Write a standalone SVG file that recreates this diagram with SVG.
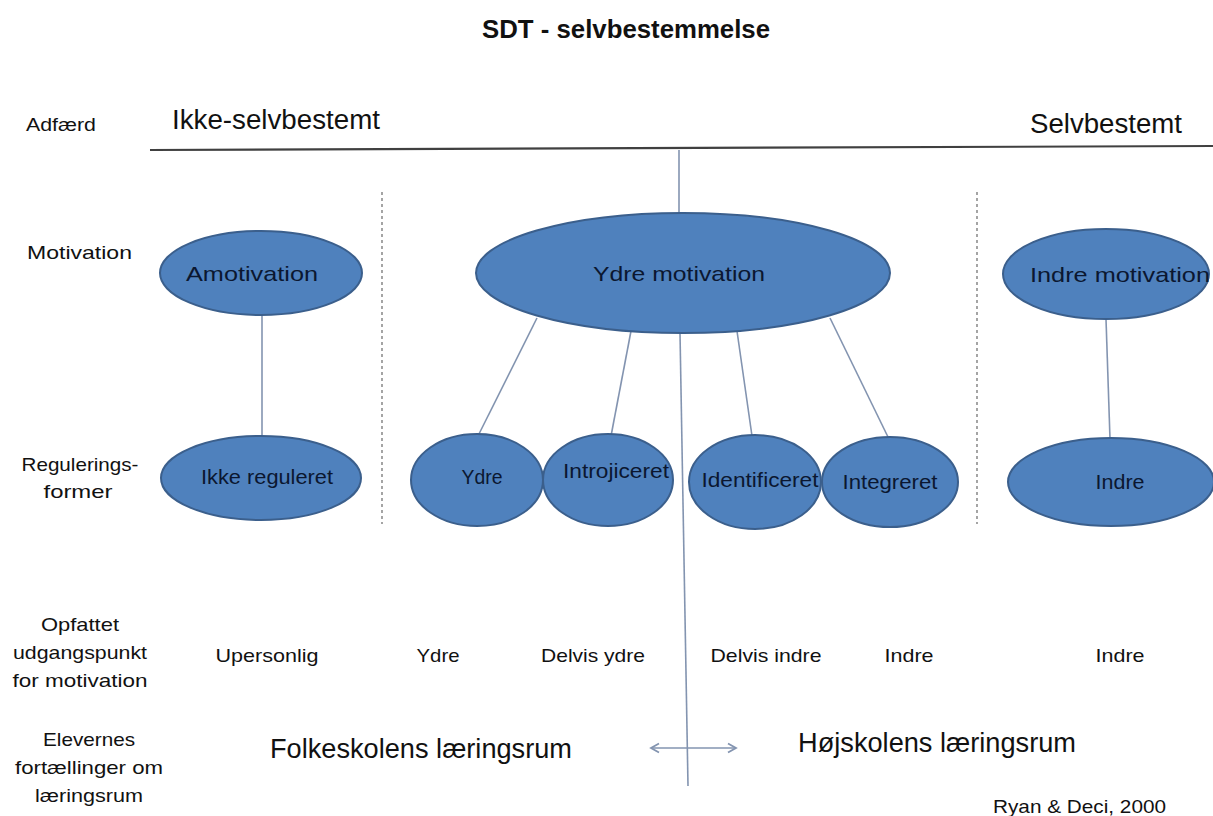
<svg xmlns="http://www.w3.org/2000/svg" width="1213" height="816" viewBox="0 0 1213 816">
<style>
text{font-family:"Liberation Sans",Arial,sans-serif;fill:#111;}
.lbl{font-size:19px;}
.big{font-size:27px;}
.nt{font-size:21px;fill:#0b1730;text-anchor:middle;}
.el{fill:#4f81bd;stroke:#3b5f8c;stroke-width:2;}
.con{stroke:#8394b0;stroke-width:1.6;fill:none;}
.dash{stroke:#7f7f7f;stroke-width:1.4;stroke-dasharray:3 3;fill:none;}
</style>
<defs>
<marker id="ah" viewBox="0 0 12 12" refX="10" refY="6" markerWidth="12" markerHeight="12" markerUnits="userSpaceOnUse" orient="auto-start-reverse">
<polyline points="2,1.5 10,6 2,10.5" fill="none" stroke="#8394b0" stroke-width="1.8"/>
</marker>
</defs>
<rect width="1213" height="816" fill="#ffffff"/>
<text x="626" y="38" text-anchor="middle" style="font-size:25px;font-weight:bold" textLength="288" lengthAdjust="spacingAndGlyphs">SDT - selvbestemmelse</text>
<g id="axis">
<line x1="150" y1="150" x2="1213" y2="146" stroke="#404040" stroke-width="2.2"/>
<line class="dash" x1="382" y1="192" x2="382" y2="524"/>
<line class="dash" x1="977" y1="192" x2="977" y2="524"/>
</g>
<g id="row-labels">
<text class="lbl" x="26" y="131" textLength="70" lengthAdjust="spacingAndGlyphs">Adfærd</text>
<text class="big" x="172" y="129" textLength="208" lengthAdjust="spacingAndGlyphs">Ikke-selvbestemt</text>
<text class="big" x="1030" y="133" textLength="152" lengthAdjust="spacingAndGlyphs">Selvbestemt</text>
<text class="lbl" x="27" y="259" textLength="105" lengthAdjust="spacingAndGlyphs">Motivation</text>
<text class="lbl" x="80" y="471" text-anchor="middle" textLength="117" lengthAdjust="spacingAndGlyphs">Regulerings-</text>
<text class="lbl" x="78" y="498" text-anchor="middle" textLength="69" lengthAdjust="spacingAndGlyphs">former</text>
<text class="lbl" x="80" y="631" text-anchor="middle" textLength="78" lengthAdjust="spacingAndGlyphs">Opfattet</text>
<text class="lbl" x="80" y="659" text-anchor="middle" textLength="134" lengthAdjust="spacingAndGlyphs">udgangspunkt</text>
<text class="lbl" x="80" y="687" text-anchor="middle" textLength="135" lengthAdjust="spacingAndGlyphs">for motivation</text>
<text class="lbl" x="89" y="746" text-anchor="middle" textLength="92" lengthAdjust="spacingAndGlyphs">Elevernes</text>
<text class="lbl" x="89" y="774" text-anchor="middle" textLength="148" lengthAdjust="spacingAndGlyphs">fortællinger om</text>
<text class="lbl" x="89" y="802" text-anchor="middle" textLength="108" lengthAdjust="spacingAndGlyphs">læringsrum</text>
</g>
<g id="connectors">
<line class="con" x1="679" y1="150" x2="679" y2="214"/>
<line class="con" x1="262" y1="315" x2="262" y2="436"/>
<line class="con" x1="537" y1="318" x2="478" y2="436"/>
<line class="con" x1="631" y1="331" x2="611" y2="436"/>
<line class="con" x1="737" y1="331" x2="752" y2="436"/>
<line class="con" x1="830" y1="318" x2="888" y2="437"/>
<line class="con" x1="1106" y1="319" x2="1110" y2="439"/>
<line class="con" x1="680" y1="333" x2="688" y2="786"/>
<line class="con" x1="651" y1="748" x2="736" y2="748" marker-start="url(#ah)" marker-end="url(#ah)"/>
</g>
<g id="amotivation"><ellipse class="el" cx="261" cy="273" rx="101" ry="42"/><text class="nt" x="252" y="281" textLength="132" lengthAdjust="spacingAndGlyphs">Amotivation</text></g>
<g id="ydre-motivation"><ellipse class="el" cx="683" cy="273" rx="207" ry="60"/><text class="nt" x="679" y="281" textLength="172" lengthAdjust="spacingAndGlyphs">Ydre motivation</text></g>
<g id="indre-motivation"><ellipse class="el" cx="1106" cy="274" rx="103" ry="45"/><text class="nt" x="1120" y="282" textLength="180" lengthAdjust="spacingAndGlyphs">Indre motivation</text></g>
<g id="ikke-reguleret"><ellipse class="el" cx="261" cy="478" rx="100" ry="42"/><text class="nt" x="267" y="484" textLength="132" lengthAdjust="spacingAndGlyphs">Ikke reguleret</text></g>
<g id="ydre"><ellipse class="el" cx="477" cy="480" rx="66" ry="46"/><text class="nt" x="482" y="484" textLength="41" lengthAdjust="spacingAndGlyphs">Ydre</text></g>
<g id="introjiceret"><ellipse class="el" cx="608" cy="480" rx="65" ry="46"/><text class="nt" x="616" y="478" textLength="106" lengthAdjust="spacingAndGlyphs">Introjiceret</text></g>
<g id="identificeret"><ellipse class="el" cx="755" cy="482" rx="66" ry="47"/><text class="nt" x="760" y="487" textLength="117" lengthAdjust="spacingAndGlyphs">Identificeret</text></g>
<g id="integreret"><ellipse class="el" cx="890" cy="482" rx="68" ry="45"/><text class="nt" x="890" y="489" textLength="95" lengthAdjust="spacingAndGlyphs">Integreret</text></g>
<g id="indre"><ellipse class="el" cx="1111" cy="482" rx="103" ry="44"/><text class="nt" x="1120" y="489" textLength="49" lengthAdjust="spacingAndGlyphs">Indre</text></g>
<g id="udgangspunkt-values">
<text class="lbl" x="267" y="662" text-anchor="middle" textLength="103" lengthAdjust="spacingAndGlyphs">Upersonlig</text>
<text class="lbl" x="438" y="662" text-anchor="middle" textLength="43" lengthAdjust="spacingAndGlyphs">Ydre</text>
<text class="lbl" x="593" y="662" text-anchor="middle" textLength="104" lengthAdjust="spacingAndGlyphs">Delvis ydre</text>
<text class="lbl" x="766" y="662" text-anchor="middle" textLength="111" lengthAdjust="spacingAndGlyphs">Delvis indre</text>
<text class="lbl" x="909" y="662" text-anchor="middle" textLength="49" lengthAdjust="spacingAndGlyphs">Indre</text>
<text class="lbl" x="1120" y="662" text-anchor="middle" textLength="49" lengthAdjust="spacingAndGlyphs">Indre</text>
</g>
<g id="laeringsrum">
<text class="big" x="270" y="758" textLength="302" lengthAdjust="spacingAndGlyphs">Folkeskolens læringsrum</text>
<text class="big" x="798" y="752" textLength="278" lengthAdjust="spacingAndGlyphs">Højskolens læringsrum</text>
</g>
<text class="lbl" x="993" y="813" textLength="173" lengthAdjust="spacingAndGlyphs">Ryan &amp; Deci, 2000</text>
</svg>
